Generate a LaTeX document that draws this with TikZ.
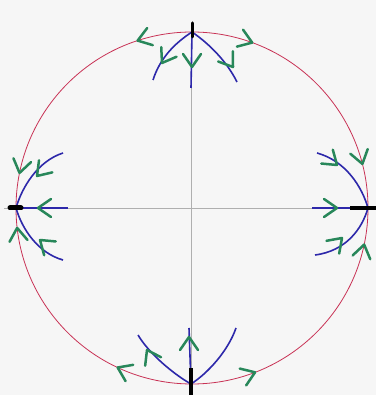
\documentclass[tikz,border=0pt]{standalone}
\usetikzlibrary{calc}
\definecolor{circred}{RGB}{200,50,85}
\definecolor{axgray}{RGB}{175,175,175}
\definecolor{traj}{RGB}{45,40,170}
\definecolor{flow}{RGB}{40,135,90}
\definecolor{paper}{RGB}{246,246,246}
\tikzset{
  gv/.pic={\draw[flow, line width=2.5pt, line cap=round, line join=round] (-13,9) -- (0,0) -- (-13,-9);},
  trajline/.style={traj, line width=1.6pt},
  axisline/.style={axgray, line width=0.6pt},
  sphere/.style={circred, line width=0.8pt},
  nodemark/.style={black, line width=3pt, line cap=round}
}
\begin{document}
\begin{tikzpicture}[x=1pt,y=1pt]
\fill[paper] (0,0) rectangle (376,395);
\useasboundingbox (0,0) rectangle (376,395);
% points at infinity (nodes)
\coordinate (C) at (192,187);
\coordinate (T) at (192,363);
\coordinate (L) at (16,187);
\coordinate (R) at (368,187);
\coordinate (B) at (191,11);
% axes
\coordinate (AxL) at (4,187);
\coordinate (AxR) at (376,187);
\coordinate (AxT) at (191,363);
\coordinate (AxB) at (191,0);
\draw[axisline] (AxL) -- (AxR);
\draw[axisline] (AxT) -- (AxB);
% circle
\draw[sphere] (C) circle (176);
% trajectory ends
\coordinate (T1) at (153,315);
\coordinate (T2) at (191,307);
\coordinate (T3) at (237,313);
\coordinate (L1) at (63,242);
\coordinate (L2) at (68,187);
\coordinate (L3) at (63,135);
\coordinate (R1) at (317,242);
\coordinate (R2) at (312,187);
\coordinate (R3) at (315,140);
\coordinate (B1) at (138,60);
\coordinate (B2) at (189,67);
\coordinate (B3) at (236,67);
% trajectories
\draw[trajline] (T) .. controls (175,352) and (160,337) .. (T1);
\draw[trajline] (T) -- (T2);
\draw[trajline] (T) .. controls (208,352) and (226,335) .. (T3);
\draw[trajline] (L) .. controls (22,208) and (38,234) .. (L1);
\draw[trajline] (L) -- (L2);
\draw[trajline] (L) .. controls (22,166) and (38,142) .. (L3);
\draw[trajline] (R) .. controls (362,208) and (346,234) .. (R1);
\draw[trajline] (R2) -- (R);
\draw[trajline] (R) .. controls (362,166) and (346,144) .. (R3);
\draw[trajline] (B) .. controls (175,20) and (150,40) .. (B1);
\draw[trajline] (B) -- (B2);
\draw[trajline] (B) .. controls (208,22) and (228,44) .. (B3);
% node marks
\draw[nodemark] ($(T)+(0,9)$) -- ($(T)+(0,-5)$);
\draw[black, line width=5pt, line cap=round] ($(L)+(-6,0)$) -- ($(L)+(5,0)$);
\draw[black, line width=3.2pt] ($(R)+(-18,0)$) -- ($(R)+(8,0)$);
\draw[black, line width=3.2pt] ($(B)+(0,16)$) -- ($(B)+(0,-11)$);
% flow arrows on the circle
\pic[rotate=198] at ($(C)+(108:176)$) {gv};
\pic[rotate=-20] at ($(C)+(70:176)$) {gv};
\pic[rotate=258] at ($(C)+(168.5:176)$) {gv};
\pic[rotate=96] at ($(C)+(186.5:176)$) {gv};
\pic[rotate=-75] at ($(C)+(14.5:176)$) {gv};
\pic[rotate=78] at ($(C)+(-12:176)$) {gv};
\pic[rotate=155] at ($(C)+(245:176)$) {gv};
\pic[rotate=21] at ($(C)+(291:176)$) {gv};
% flow arrows on trajectories
\pic[rotate=238] at (162,332) {gv};
\pic[rotate=270] at (192,328) {gv};
\pic[rotate=-55] at (233,328) {gv};
\pic[rotate=228] at (37,219) {gv};
\pic[rotate=180] at (38,187) {gv};
\pic[rotate=140] at (40,155) {gv};
\pic[rotate=-40] at (337,230) {gv};
\pic[rotate=0] at (337,187) {gv};
\pic[rotate=45] at (342,157) {gv};
\pic[rotate=118] at (147,45) {gv};
\pic[rotate=90] at (189,58) {gv};
\end{tikzpicture}
\end{document}
